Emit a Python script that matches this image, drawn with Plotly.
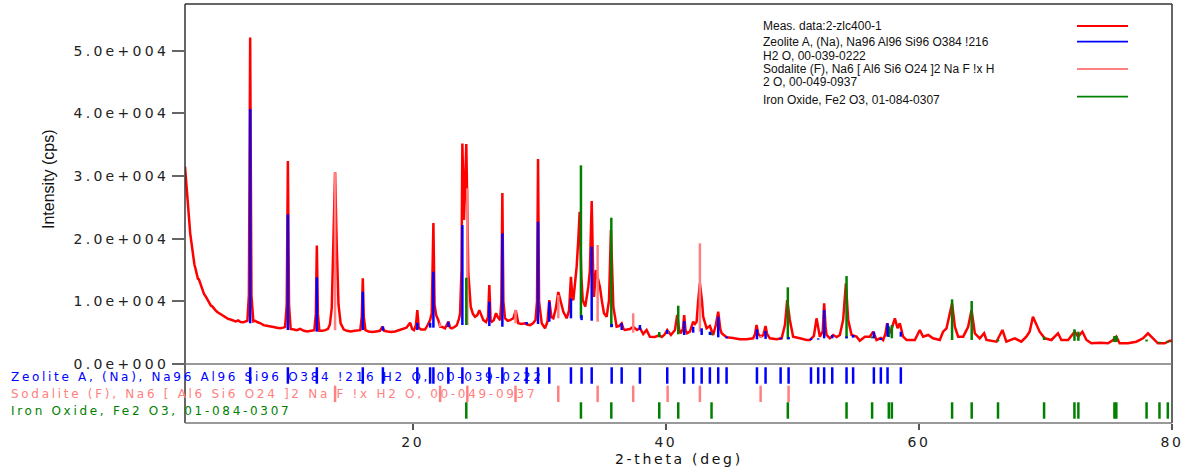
import plotly.graph_objects as go

# ---------------- measured pattern (2-theta in deg, intensity in cps) ----------------
two_theta = [
    2.00, 2.05, 2.09, 2.13, 2.17, 2.25, 2.33, 2.41, 2.48, 2.55,
    2.62, 2.67, 2.75, 2.82, 2.88, 2.94, 3.02, 3.10, 3.20, 3.30,
    3.40, 3.50, 3.60, 3.73, 3.85, 3.95, 4.05, 4.15, 4.25, 4.40,
    4.55, 4.70, 4.85, 5.02, 5.20, 5.40, 5.60, 5.81, 6.00, 6.20,
    6.40, 6.60, 6.75, 6.93, 7.05, 7.15, 7.25, 7.40, 7.55, 7.70,
    7.97, 8.20, 8.45, 8.73, 9.00, 9.25, 9.52, 9.75, 9.91, 10.04,
    10.13, 10.22, 10.35, 10.60, 10.85, 11.10, 11.40, 11.65, 11.90, 12.22,
    12.34, 12.42, 12.50, 12.62, 12.85, 13.10, 13.30, 13.45, 13.60, 13.74,
    13.86, 13.99, 14.13, 14.30, 14.55, 14.80, 15.10, 15.40, 15.70, 15.85,
    15.97, 16.05, 16.13, 16.26, 16.50, 16.80, 17.10, 17.40, 17.60, 17.75,
    18.00, 18.30, 18.60, 18.90, 19.20, 19.50, 19.79, 19.95, 20.10, 20.25,
    20.36, 20.47, 20.65, 20.97, 21.20, 21.37, 21.50, 21.63, 21.72, 21.85,
    22.02, 22.16, 22.35, 22.55, 22.81, 22.95, 23.08, 23.30, 23.48, 23.65,
    23.74, 23.85, 23.92, 24.05, 24.23, 24.33, 24.39, 24.58, 24.75, 24.92,
    25.10, 25.26, 25.42, 25.58, 25.79, 25.95, 26.05, 26.15, 26.24, 26.40,
    26.58, 26.70, 26.90, 27.00, 27.08, 27.16, 27.29, 27.50, 27.69, 27.95,
    28.14, 28.34, 28.60, 28.87, 29.05, 29.27, 29.50, 29.70, 29.82, 29.90,
    29.98, 30.19, 30.45, 30.65, 30.79, 30.95, 31.11, 31.30, 31.50, 31.70,
    31.90, 32.16, 32.35, 32.50, 32.62, 32.69, 32.85, 32.95, 33.08, 33.19,
    33.32, 33.43, 33.63, 33.87, 34.00, 34.14, 34.25, 34.32, 34.48, 34.60,
    34.79, 34.95, 35.11, 35.32, 35.51, 35.66, 35.77, 35.85, 36.11, 36.30,
    36.51, 36.65, 36.77, 37.16, 37.42, 37.72, 37.95, 38.21, 38.48, 38.74,
    39.14, 39.48, 39.69, 39.90, 40.11, 40.40, 40.72, 40.90, 41.05, 41.17,
    41.35, 41.45, 41.55, 41.67, 41.90, 42.16, 42.30, 42.43, 42.56, 42.69,
    42.85, 42.95, 43.22, 43.48, 43.74, 43.95, 44.14, 44.30, 44.41, 44.80,
    45.30, 45.85, 46.38, 46.90, 47.05, 47.17, 47.30, 47.49, 47.70, 47.88,
    48.00, 48.22, 48.75, 49.15, 49.41, 49.59, 49.80, 50.06, 50.59, 51.12,
    51.38, 51.70, 51.91, 52.10, 52.17, 52.40, 52.51, 52.62, 52.70, 52.96,
    53.22, 53.50, 53.75, 54.01, 54.23, 54.41, 54.68, 55.07, 55.33, 55.73,
    56.12, 56.39, 56.65, 56.99, 57.17, 57.35, 57.49, 57.65, 57.84, 58.10,
    58.31, 58.49, 58.75, 59.02, 59.68, 60.07, 60.33, 60.73, 61.12, 61.65,
    61.91, 62.18, 62.36, 62.62, 62.84, 63.10, 63.50, 63.89, 64.16, 64.42,
    64.81, 65.15, 65.34, 66.13, 66.60, 66.91, 67.57, 68.09, 68.49, 68.75,
    69.01, 69.28, 69.54, 69.94, 70.47, 70.99, 71.26, 71.79, 72.31, 72.58,
    72.92, 73.24, 73.63, 74.30, 74.95, 75.34, 75.60, 75.86, 76.52, 77.18,
    77.71, 78.10, 78.50, 78.89, 79.42, 79.82, 80.00,
]
intensity = [
    31500, 30200, 29400, 27000, 26200, 24000, 22300, 20900, 19800, 18600,
    17600, 16900, 15800, 15300, 14700, 14400, 13600, 13500, 12900, 12200,
    11800, 11200, 10900, 10400, 10000, 9800, 9300, 9200, 8900, 8600,
    8300, 8100, 7900, 7700, 7400, 7200, 7100, 6900, 6800, 6950,
    6700, 6650, 6800, 6900, 11000, 52100, 11000, 6800, 6900, 6700,
    6500, 6200, 6100, 5950, 5900, 5800, 5700, 5800, 5900, 9500,
    32400, 9500, 5600, 5500, 5400, 5600, 5300, 5200, 5300, 5400,
    8000, 18900, 8000, 5300, 5300, 5400, 5600, 6300, 9000, 19000,
    30600, 19000, 9500, 6500, 5500, 5300, 5200, 5300, 5300, 5400,
    7500, 13700, 7500, 5400, 5200, 5100, 5200, 5300, 5950, 5300,
    5200, 5100, 5200, 5400, 5500, 5800, 6600, 5600, 5400, 6200,
    8600, 5800, 5500, 5500, 6300, 7000, 8100, 22500, 9500, 7800,
    7000, 5950, 5900, 5700, 6750, 5800, 5700, 5900, 6200, 7200,
    8100, 15000, 35200, 23000, 35100, 20000, 14500, 9150, 8000, 7550,
    7800, 8600, 7700, 7000, 6700, 7500, 12600, 7000, 6750, 7000,
    8100, 7550, 7000, 10000, 27300, 10000, 7300, 6900, 7000, 7300,
    8600, 6500, 6400, 6500, 6300, 6200, 6500, 7000, 10000, 32700,
    10000, 6500, 5700, 6800, 10200, 7500, 7300, 8800, 11500, 10000,
    8350, 7300, 8500, 13900, 10500, 10200, 13000, 15500, 19800, 24300,
    14000, 10200, 9150, 12300, 15000, 26000, 15000, 10700, 15000, 14000,
    12300, 10000, 8100, 7550, 10200, 21400, 12000, 9150, 5950, 6060,
    6500, 5600, 5430, 5590, 5950, 5430, 5750, 4790, 5430, 4360,
    4310, 4600, 4310, 4700, 5430, 4630, 5430, 7820, 5500, 4900,
    5600, 7820, 5400, 4900, 5160, 6750, 6400, 6750, 10200, 12880,
    10200, 7550, 5700, 6060, 4630, 6220, 8350, 5600, 4900, 4260,
    4150, 3940, 3940, 4100, 4800, 6220, 4800, 4360, 4600, 6060,
    4800, 4100, 3940, 4100, 6220, 10210, 7020, 4360, 4100, 3830,
    3830, 4500, 7290, 5000, 4360, 5200, 9680, 6000, 4630, 4100,
    4630, 4300, 4630, 7020, 12880, 7020, 4630, 4360, 3720, 4360,
    4360, 5160, 3830, 4150, 3830, 4800, 6500, 4900, 5600, 7290,
    5700, 6500, 4360, 3830, 3830, 5430, 4360, 4630, 4100, 3830,
    5160, 5700, 7550, 9680, 5950, 4360, 4360, 5950, 8620, 4900,
    4100, 4900, 3830, 3560, 5430, 3560, 4100, 3560, 4360, 5160,
    7550, 6220, 5160, 4100, 3830, 4900, 3830, 3830, 5160, 4360,
    5160, 3830, 3300, 3400, 3300, 3830, 4360, 3300, 3300, 3560,
    4100, 4900, 4100, 3300, 3300, 3720, 3670,
]

# ---------------- reference phases (stick position, stick foot, stick top) ----------------
zeolite_pos = [7.15, 10.13, 12.42, 16.05, 17.64, 20.36, 21.37, 21.63, 22.81, 23.92,
               26.05, 27.08, 29.00, 29.90, 30.79, 32.50, 33.34, 34.14, 35.72, 36.51,
               37.95, 40.11, 41.45, 42.16, 42.83, 43.48, 44.14, 44.80, 47.20, 47.88,
               49.07, 49.70, 51.47, 52.04, 52.51, 53.15, 54.28, 54.80, 56.44, 56.99,
               57.52, 58.57]
zeolite_base = [6500, 5430, 5160, 5430, 5300, 5430, 5800, 5800, 5900, 6220,
                6060, 5950, 6300, 6380, 6750, 7290, 7000, 6910, 5900, 5430,
                5430, 4800, 4630, 5000, 4630, 4630, 4260, 4100, 3940, 4000,
                3940, 3940, 3830, 3900, 4100, 4100, 4100, 4200, 4100, 3830,
                4360, 4360]
zeolite_top = [40700, 23900, 13840, 11540, 6000, 6590, 6590, 14730, 6750, 22180,
               9940, 20860, 6700, 22710, 9940, 10480, 7800, 18720, 6400, 6500,
               6220, 5430, 6860, 5950, 5700, 5160, 7550, 4400, 5530, 5270,
               4200, 4300, 4100, 4100, 8620, 4630, 4400, 4630, 5160, 4150,
               6500, 5160]

sodalite_pos = [13.86, 22.16, 24.31, 28.12, 31.50, 34.61, 37.42, 40.14, 42.69, 47.49, 49.70]
sodalite_base = [5400, 5900, 6220, 6500, 7300, 6750, 5000, 4800, 5160, 4200, 4000]
sodalite_top = [30600, 6600, 28040, 8600, 11000, 18990, 8090, 5430, 19260, 4500, 4300]

hematite_pos = [24.23, 33.29, 35.69, 39.48, 40.98, 43.61, 49.64, 54.28, 56.30, 57.62,
                57.86, 62.62, 64.17, 66.25, 69.89, 72.29, 72.60, 75.45, 75.60, 77.99,
                79.01, 79.67]
hematite_base = [6220, 7290, 5860, 4260, 4740, 4600, 3940, 4100, 4100, 4300,
                 4100, 3830, 3830, 3600, 3830, 3700, 3700, 3500, 3500, 3600,
                 3300, 3400]
hematite_top = [13770, 31710, 23350, 5100, 9310, 5000, 12240, 14040, 4400, 6000,
                6220, 10320, 10050, 3900, 4360, 5530, 5160, 4470, 4470, 3900,
                3550, 3700]

# ---------------- texts / ticks ----------------
meas_name = "Meas. data:2-zlc400-1"
zeolite_name = "Zeolite A, (Na), Na96 Al96 Si96 O384 !216 H2 O, 00-039-0222"
sodalite_name = "Sodalite (F), Na6 [ Al6 Si6 O24 ]2 Na F !x H2 O, 00-049-0937"
hematite_name = "Iron Oxide, Fe2 O3, 01-084-0307"
legend_lines = [
    ["Meas. data:2-zlc400-1"],
    ["Zeolite A, (Na), Na96 Al96 Si96 O384 !216", "H2 O, 00-039-0222"],
    ["Sodalite (F), Na6 [ Al6 Si6 O24 ]2 Na F !x H", "2 O, 00-049-0937"],
    ["Iron Oxide, Fe2 O3, 01-084-0307"],
]
x_ticks = [20, 40, 60, 80]
x_tick_text = ["20", "40", "60", "80"]
y_ticks = [0, 10000, 20000, 30000, 40000, 50000]
y_tick_text = ["0.0e+000", "1.0e+004", "2.0e+004", "3.0e+004", "4.0e+004", "5.0e+004"]

# ---------------- styling / geometry ----------------
RED, BLUE, PINK, GREEN = "#FF0000", "#0000FF", "#FF8080", "#008000"
W, H = 1189, 474
ML, MR, MT, MB = 185, 17, 4, 51
PW, PH = W - ML - MR, H - MT - MB


def px_x(px):
    return (px - ML) / PW


def px_y(py):
    return (H - MB - py) / PH


def wide(text, spacing):
    # the reference uses a horizontally stretched font; emulate with letter spacing
    return '<span style="letter-spacing:%spx">%s</span>' % (spacing, text)


SPLIT = px_y(364)
ROW = {"zeolite": 2.0, "sodalite": 0.95, "hematite": 0.0}
HALF = 0.47


def sticks(pos, lo, hi):
    xs, ys = [], []
    for p, a, b in zip(pos, lo, hi):
        xs += [p, p, None]
        ys += [a, b, None]
    return xs, ys


fig = go.Figure()
fig.add_trace(go.Scatter(x=two_theta, y=intensity, mode="lines", name=meas_name,
                         line=dict(color=RED, width=2.5), xaxis="x", yaxis="y"))

for pos, lo, hi, col, name in [
    (sodalite_pos, sodalite_base, sodalite_top, PINK, sodalite_name),
    (hematite_pos, hematite_base, hematite_top, GREEN, hematite_name),
    (zeolite_pos, zeolite_base, zeolite_top, BLUE, zeolite_name),
]:
    xs, ys = sticks(pos, lo, hi)
    fig.add_trace(go.Scatter(x=xs, y=ys, mode="lines", name=name,
                             line=dict(color=col, width=2.5), xaxis="x", yaxis="y"))

for pos, key, col, name in [
    (zeolite_pos, "zeolite", BLUE, zeolite_name),
    (sodalite_pos, "sodalite", PINK, sodalite_name),
    (hematite_pos, "hematite", GREEN, hematite_name),
]:
    r = ROW[key]
    xs, ys = sticks(pos, [r - HALF] * len(pos), [r + HALF] * len(pos))
    fig.add_trace(go.Scatter(x=xs, y=ys, mode="lines", name=name,
                             line=dict(color=col, width=2.5), xaxis="x", yaxis="y2"))

annotations = []
# row labels in the stick panel
for text, col, py in [(zeolite_name, BLUE, 377), (sodalite_name, PINK, 393.5), (hematite_name, GREEN, 411)]:
    annotations.append(dict(text=wide(text, 2.7), xref="paper", yref="paper", x=px_x(9), y=px_y(py),
                            xanchor="left", yanchor="middle", showarrow=False,
                            font=dict(family="DejaVu Sans", size=12, color=col)))
# legend (text on the left, line sample on the right)
legend_text_y = [[26], [42, 55.5], [68.5, 82], [99.5]]
legend_line_y = [26, 41.7, 69, 96.7]
legend_cols = [RED, BLUE, PINK, GREEN]
for lines, ys in zip(legend_lines, legend_text_y):
    for t, py in zip(lines, ys):
        annotations.append(dict(text=t, xref="paper", yref="paper", x=px_x(761), y=px_y(py),
                                xanchor="left", yanchor="middle", showarrow=False,
                                font=dict(family="Liberation Sans, Arial", size=12, color="#111")))
# axis titles
annotations.append(dict(text="Intensity (cps)", xref="paper", yref="paper", x=px_x(48), y=px_y(179),
                        xanchor="center", yanchor="middle", textangle=-90, showarrow=False,
                        font=dict(family="Liberation Sans, Arial", size=16, color="#111")))
annotations.append(dict(text=wide("2-theta (deg)", 2.7), xref="paper", yref="paper", x=px_x(679), y=px_y(459),
                        xanchor="center", yanchor="middle", showarrow=False,
                        font=dict(family="DejaVu Sans", size=14, color="#111")))

shapes = []
for py, col in zip(legend_line_y, legend_cols):
    shapes.append(dict(type="line", xref="paper", yref="paper", x0=px_x(1077), x1=px_x(1128),
                       y0=px_y(py), y1=px_y(py), line=dict(color=col, width=1.8)))
frame_dark = dict(color="#333333", width=1.5)
frame_grey = dict(color="#777777", width=1.5)
shapes += [
    dict(type="line", xref="paper", yref="paper", x0=0, x1=0, y0=0, y1=1, line=frame_dark),
    dict(type="line", xref="paper", yref="paper", x0=1, x1=1, y0=0, y1=1, line=frame_dark),
    dict(type="line", xref="paper", yref="paper", x0=0, x1=1, y0=1, y1=1, line=frame_dark),
    dict(type="line", xref="paper", yref="paper", x0=0, x1=1, y0=0, y1=0, line=frame_grey),
    dict(type="line", xref="paper", yref="paper", x0=0, x1=1, y0=SPLIT, y1=SPLIT, line=frame_grey),
]

fig.update_layout(
    width=W, height=H,
    margin=dict(l=ML, r=MR, t=MT, b=MB),
    paper_bgcolor="white", plot_bgcolor="white",
    showlegend=False, hovermode=False,
    xaxis=dict(domain=[0, 1], range=[2, 80], anchor="y2", tickvals=x_ticks,
               ticktext=[wide(t, 2.5) for t in x_tick_text],
               ticks="outside", ticklen=6, tickwidth=1.5, tickcolor="#555",
               showgrid=False, zeroline=False, showline=False,
               tickfont=dict(family="DejaVu Sans", size=14, color="#222")),
    yaxis=dict(domain=[SPLIT, 1], range=[0, 57460], anchor="x", tickvals=y_ticks,
               ticktext=[wide(t, 3.3) for t in y_tick_text], ticks="outside", ticklen=12, tickwidth=1.5,
               tickcolor="#666", showgrid=False, zeroline=False, showline=False,
               tickfont=dict(family="DejaVu Sans", size=14, color="#222")),
    yaxis2=dict(domain=[0, SPLIT], range=[-0.714, 2.657], anchor="x", visible=False),
    annotations=annotations,
    shapes=shapes,
)

fig.write_html("out.html", config={"displayModeBar": False},
               post_script="document.body.style.margin='0px';")
